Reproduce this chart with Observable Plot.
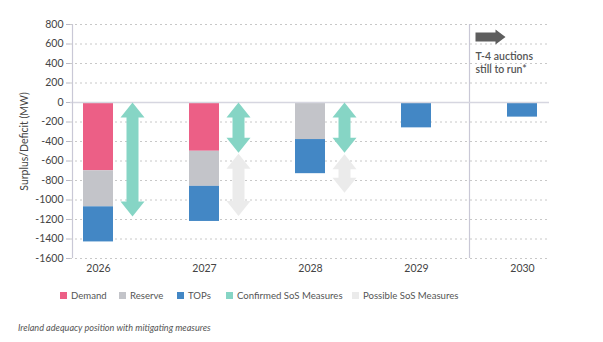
<!DOCTYPE html>
<html>
<head>
<meta charset="utf-8">
<script src="https://cdn.jsdelivr.net/npm/d3@7"></script>
<script src="https://cdn.jsdelivr.net/npm/@observablehq/plot@0.6"></script>
<style>
  body { margin: 0; background: #fff; font-family: Lato, "Noto Sans", sans-serif; }
  #wrap { position: relative; width: 603px; height: 342px; }
  #legend { position: absolute; left: 0; top: 288px; width: 603px; height: 14px; font-size: 9.6px; color: #555; }
  .li { position: absolute; top: 0; display: flex; align-items: center; height: 14px; white-space: nowrap; }
  .sw { width: 7px; height: 7px; margin-right: 4px; display: inline-block; }
  #caption { position: absolute; left: 18px; top: 322px; font-size: 9.1px; font-style: italic; color: #555; }
</style>
</head>
<body>
<div id="wrap">
  <div id="chart"></div>
  <div id="legend"></div>
  <div id="caption">Ireland adequacy position with mitigating measures</div>
</div>
<script>
const years = ["2026", "2027", "2028", "2029", "2030"];
const demand = [-700, -500, 0, 0, 0];
const reserve = [-370, -360, -380, 0, 0];
const tops = [-360, -360, -350, -260, -150];

const confirmedYears = ["2026", "2027", "2028"];
const confirmedFrom = [0, 0, 0];
const confirmedTo = [-1170, -515, -515];

const possibleYears = ["2027", "2028"];
const possibleFrom = [-525, -530];
const possibleTo = [-1163, -925];

const yTicks = [800, 600, 400, 200, 0, -200, -400, -600, -800, -1000, -1200, -1400, -1600];
const annotationLines = ["T-4 auctions", "still to run*"];

const categories = ["Demand", "Reserve", "TOPs", "Confirmed SoS Measures", "Possible SoS Measures"];
const colors = ["#ec5f86", "#c3c4c9", "#4387c5", "#86d5c5", "#ebebeb"];

const stackData = [];
years.forEach((y, i) => {
  stackData.push({year: y, cat: "Demand", value: demand[i]});
  stackData.push({year: y, cat: "Reserve", value: reserve[i]});
  stackData.push({year: y, cat: "TOPs", value: tops[i]});
});
const confirmed = confirmedYears.map((y, i) => ({year: y, y1: confirmedFrom[i], y2: confirmedTo[i]}));
const possible = possibleYears.map((y, i) => ({year: y, y1: possibleFrom[i], y2: possibleTo[i]}));

const headUp = {draw(ctx) { ctx.moveTo(0, 0); ctx.lineTo(12, 15); ctx.lineTo(-12, 15); ctx.closePath(); }};
const headDown = {draw(ctx) { ctx.moveTo(0, 0); ctx.lineTo(12, -15); ctx.lineTo(-12, -15); ctx.closePath(); }};
const rightArrow = {draw(ctx) {
  ctx.moveTo(0, -4.5); ctx.lineTo(20, -4.5); ctx.lineTo(20, -7.5); ctx.lineTo(30, 0);
  ctx.lineTo(20, 7.5); ctx.lineTo(20, 4.5); ctx.lineTo(0, 4.5); ctx.closePath();
}};

function arrowMarks(data, color) {
  return [
    Plot.ruleX(data, {x: "year", y1: "y1", y2: "y2", dx: 34, stroke: color, strokeWidth: 12, insetTop: 14, insetBottom: 14}),
    Plot.dot(data, {x: "year", y: "y1", dx: 34, symbol: headUp, fill: color, stroke: "none"}),
    Plot.dot(data, {x: "year", y: "y2", dx: 34, symbol: headDown, fill: color, stroke: "none"})
  ];
}

const chart = Plot.plot({
  width: 603,
  height: 280,
  marginTop: 24,
  marginBottom: 22,
  marginLeft: 70,
  marginRight: 54,
  style: {fontFamily: "Lato, 'Noto Sans', sans-serif", fontSize: "10.5px", color: "#444", background: "#fff"},
  x: {type: "band", domain: years, paddingInner: 0.719, paddingOuter: 0.103},
  y: {domain: [-1600, 800]},
  color: {domain: categories, range: colors},
  marks: [
    Plot.gridY(yTicks, {stroke: "#c8c8c8", strokeOpacity: 1, strokeDasharray: "2,3"}),
    Plot.ruleX(["2029"], {dx: 53, stroke: "#c9c8d6", strokeWidth: 1.2}),
    Plot.barY(stackData, {x: "year", y: "value", fill: "cat", order: ["Demand", "Reserve", "TOPs"]}),
    Plot.ruleY([0], {stroke: "#d6d6e0", strokeWidth: 1.5}),
    ...arrowMarks(confirmed, "#86d5c5"),
    ...arrowMarks(possible, "#ebebeb"),
    Plot.dot(["2030"], {x: d => d, y: 673, dx: -47, symbol: rightArrow, fill: "#5e5e5e", stroke: "none"}),
    Plot.text([annotationLines.join("\n")], {x: () => "2030", y: 525, dx: -47, text: d => d, textAnchor: "start", lineAnchor: "top", lineHeight: 1.22, fill: "#555", fontSize: 10.5, fontWeight: 600}),
    Plot.axisY(yTicks, {tickSize: 4, tickPadding: 3, stroke: "#b8b8c4", tickFormat: d => String(d), label: "Surplus/Deficit (MW)", labelAnchor: "center", labelArrow: "none", labelOffset: 50, fill: "#444", fontSize: 10.5}),
    Plot.axisX({tickSize: 0, tickPadding: 6, label: null, fill: "#444", fontSize: 10.5}),
    Plot.ruleX(["2026"], {dx: -26, stroke: "#c9c8d6", strokeWidth: 1.2})
  ]
});
document.getElementById("chart").appendChild(chart);

const legendX = [60, 119, 177, 226, 352];
const legend = document.getElementById("legend");
categories.forEach((c, i) => {
  const el = document.createElement("div");
  el.className = "li";
  el.style.left = legendX[i] + "px";
  el.innerHTML = `<span class="sw" style="background:${colors[i]}"></span><span>${c}</span>`;
  legend.appendChild(el);
});
</script>
</body>
</html>
